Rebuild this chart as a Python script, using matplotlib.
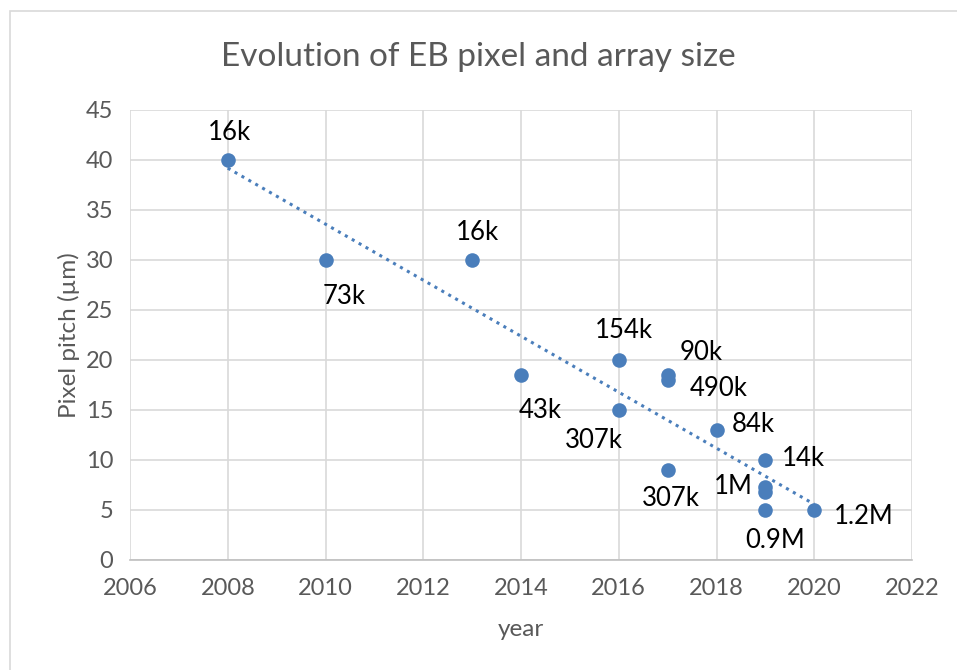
import numpy as np
import matplotlib
matplotlib.use("Agg")
import matplotlib.pyplot as plt
from matplotlib.patches import Rectangle

# Event-based sensor data: year, pixel pitch (um), array size label
years = [2008, 2010, 2013, 2014, 2016, 2016, 2017, 2017, 2017, 2018, 2019, 2019, 2019, 2019, 2020]
pitch_um = [40, 30, 30, 18.5, 20, 15, 18.5, 18, 9, 13, 10, 7.3, 6.8, 5, 5]
array_size = ["16k", "73k", "16k", "43k", "154k", "307k", "90k", "490k", "307k",
              "84k", "14k", "1M", "", "0.9M", "1.2M"]

# label placement (pixel offsets from each marker)
label_offsets = [(2, 27), (19, -37), (5, 27), (19, -35), (5, 29), (-25, -30), (34, 22),
                 (51, -8), (3, -28), (37, 6), (38, 1), (-32, 0), (0, 0), (10, -30), (49, -6)]

x_ticks = list(range(2006, 2023, 2))
y_ticks = list(range(0, 46, 5))

plt.rcParams['font.family'] = ['Lato', 'DejaVu Sans']
blue = "#4a7ebb"
grid_col = "#d9d9d9"
tick_col = "#595959"

fig = plt.figure(figsize=(9.57, 6.70), dpi=100)
ax = fig.add_axes([130/957, 1-560/670, (912-130)/957, (560-110)/670])

# chart border
fig.patches.append(Rectangle((10/957, -0.1), 1.0, 1 - 11/670 + 0.1, transform=fig.transFigure,
                             fill=False, edgecolor=grid_col, linewidth=1.2))

ax.scatter(years, pitch_um, s=110, color=blue, zorder=3, linewidths=0)

# linear trendline
coef = np.polyfit(years, pitch_um, 1)
xt = np.array([min(years), max(years)])
ax.plot(xt, np.polyval(coef, xt), linestyle=(0, (1, 1.6)), color=blue, linewidth=2.2, zorder=2)

for x, y, lab, (dx, dy) in zip(years, pitch_um, array_size, label_offsets):
    if lab:
        ax.annotate(lab, (x, y), xytext=(dx, dy), textcoords="offset pixels",
                    ha="center", va="center", fontsize=18.5, color="black")

ax.set_xlim(2006, 2022)
ax.set_ylim(0, 45)
ax.set_xticks(x_ticks)
ax.set_yticks(y_ticks)
ax.grid(True, color=grid_col, linewidth=1.2)
ax.set_axisbelow(True)
for side in ["top", "right", "left"]:
    ax.spines[side].set_visible(False)
ax.spines["bottom"].set_color("#bfbfbf")
ax.spines["bottom"].set_linewidth(1.2)
ax.tick_params(length=0, labelsize=17, labelcolor=tick_col, pad=13)
ax.tick_params(axis="y", pad=12)

ax.set_xlabel("year", fontsize=17.5, color=tick_col, labelpad=14)
ax.set_ylabel("Pixel pitch (µm)", fontsize=17.5, color=tick_col, labelpad=4)
fig.text(0.5, 1 - 57/670, "Evolution of EB pixel and array size", ha="center", va="center",
         fontsize=24, color=tick_col)

fig.savefig("out.png", dpi=100)
